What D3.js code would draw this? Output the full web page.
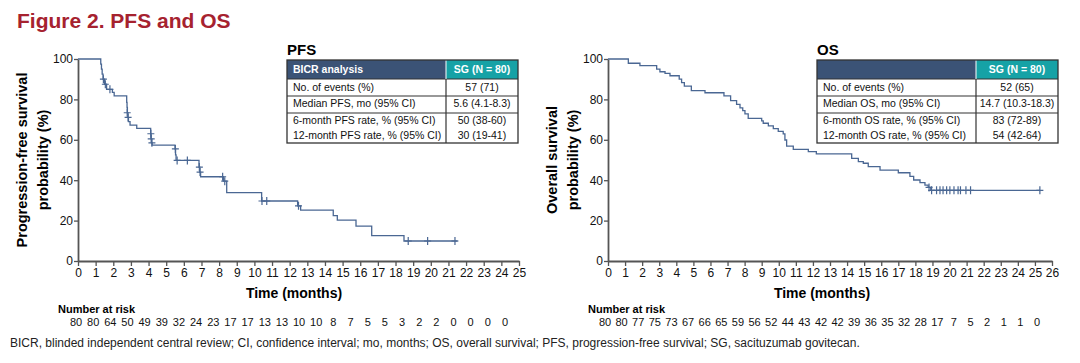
<!DOCTYPE html>
<html>
<head>
<meta charset="utf-8">
<script src="https://cdn.jsdelivr.net/npm/d3@7"></script>
<style>
body{margin:0;background:#fff;}
svg{font-family:"Liberation Sans",Arial,sans-serif;display:block;}
</style>
</head>
<body>
<div class="figure"></div>
<script>
//PFS Kaplan-Meier steps (months, % surviving after each step)
const pfsTime = [0, 1.29, 1.33, 1.37, 1.42, 1.5, 1.62, 1.95, 2.05, 2.76, 2.78, 2.8, 2.83, 2.86, 2.95, 3.33, 4.12, 4.14, 4.17, 4.2, 5.5, 5.53, 5.56, 6.86, 6.9, 6.95, 8.25, 8.43, 10.41, 12.45, 12.62, 14.47, 14.7, 15.76, 16.65, 18.48];
const pfsSurv = [100, 97.5, 95, 92.5, 90, 87.5, 85, 83.5, 81.7, 78.5, 76, 73.4, 71.1, 69, 67.3, 65.7, 63, 60.5, 58.5, 57.4, 55.5, 52.5, 49.8, 46.5, 44, 41.7, 39.5, 33.8, 29.7, 27.3, 25.2, 22.5, 20.2, 17.3, 12.6, 9.9];
const pfsEnd = 21.52;
const pfsCensorTime = [1.44, 1.55, 1.81, 2.79, 2.84, 4.13, 4.15, 4.19, 5.52, 5.62, 6.2, 6.88, 6.92, 8.2, 8.32, 10.43, 10.7, 12.5, 18.72, 19.82, 21.37];
const pfsCensorSurv = [90, 87.5, 85, 73.4, 71.1, 63, 60.5, 58.5, 55.5, 49.8, 49.8, 46.5, 44, 41.7, 39.5, 29.7, 29.7, 27.3, 9.9, 9.9, 9.9];
const pfsAtRisk = [80, 80, 64, 50, 49, 39, 32, 24, 23, 17, 17, 13, 13, 10, 10, 8, 7, 5, 5, 3, 2, 2, 0, 0, 0, 0];

//OS Kaplan-Meier steps
const osTime = [0, 1.19, 1.87, 2.85, 3.04, 3.34, 3.63, 4.17, 4.31, 4.47, 4.88, 5.68, 6.79, 7.18, 7.53, 7.73, 7.89, 8.02, 8.21, 9.0, 9.09, 9.39, 9.68, 9.97, 10.26, 10.36, 10.46, 10.85, 11.73, 12.2, 14.27, 14.66, 14.95, 15.24, 15.93, 17.0, 17.68, 17.9, 18.27, 18.56, 18.75, 18.9];
const osSurv = [100, 97.9, 96.7, 95.0, 93.7, 92.9, 91.7, 90.0, 88.3, 86.6, 84.3, 83.3, 81.7, 79.4, 77.5, 75.8, 74.4, 72.8, 70.6, 69.4, 68.2, 66.9, 65.5, 64.2, 62.9, 59.9, 56.9, 55.3, 54.1, 53.0, 50.8, 49.2, 48.4, 46.7, 45.0, 43.7, 41.9, 40.1, 38.8, 37.6, 36.4, 35.0];
const osEnd = 25.3;
const osCensorTime = [18.8, 18.95, 19.24, 19.44, 19.62, 19.83, 20.02, 20.26, 20.5, 20.64, 20.96, 21.23, 25.29];
const osCensorSurv = [36.4, 35, 35, 35, 35, 35, 35, 35, 35, 35, 35, 35, 35];
const osAtRisk = [80, 80, 77, 75, 73, 67, 66, 65, 59, 56, 52, 44, 43, 42, 42, 39, 36, 35, 32, 28, 17, 7, 5, 2, 1, 1, 0];

//Tables
const pfsRowLabels = ['No. of events (%)', 'Median PFS, mo (95% CI)', '6-month PFS rate, % (95% CI)', '12-month PFS rate, % (95% CI)'];
const pfsRowValues = ['57 (71)', '5.6 (4.1-8.3)', '50 (38-60)', '30 (19-41)'];
const osRowLabels = ['No. of events (%)', 'Median OS, mo (95% CI)', '6-month OS rate, % (95% CI)', '12-month OS rate, % (95% CI)'];
const osRowValues = ['52 (65)', '14.7 (10.3-18.3)', '83 (72-89)', '54 (42-64)'];

const yTicks = [0, 20, 40, 60, 80, 100];

const lineColor = '#4a6793';
const navy = '#3b5376';
const teal = '#16a2a6';

const width = 1080;
const height = 363;
const svg = d3.select('.figure')
	.append('svg')
	.attr('width', width)
	.attr('height', height);

//Title
svg.append('text')
	.attr('x', 17)
	.attr('y', 28)
	.attr('font-size', '21px')
	.attr('font-weight', 'bold')
	.attr('fill', '#a6222f')
	.text('Figure 2. PFS and OS');

function drawPanel(p){
	const x = d3.scaleLinear().domain([0, p.maxMonth]).range([p.left, p.right]);
	const y = d3.scaleLinear().domain([0, 100]).range([261, 59]);
	const xRisk = d3.scaleLinear().domain([0, p.maxMonth]).range(p.riskRange);

	//Axes
	const gx = svg.append('g')
		.attr('transform', 'translate(0,261)')
		.call(d3.axisBottom(x).tickValues(d3.range(0, p.maxMonth + 1)).tickSize(5).tickPadding(2).tickSizeOuter(0));
	const gy = svg.append('g')
		.attr('transform', `translate(${p.left},0)`)
		.call(d3.axisLeft(y).tickValues(yTicks).tickSize(4).tickPadding(1).tickSizeOuter(0));
	[gx, gy].forEach(g=>{
		g.selectAll('path, line').attr('stroke', '#555').attr('stroke-width', 1.3);
		g.selectAll('text').attr('font-size', '12px').attr('fill', '#111').attr('font-family', '"Liberation Sans",Arial,sans-serif');
	});
	gy.select('.domain').attr('stroke-width', 1.8);
	gx.select('.domain').attr('stroke-width', 1.8);

	//KM curve
	const pts = p.time.map((t, i)=>[t, p.surv[i]]);
	pts.push([p.end, p.surv[p.surv.length - 1]]);
	const line = d3.line()
		.x(d=>x(d[0]))
		.y(d=>y(d[1]))
		.curve(d3.curveStepAfter);
	svg.append('path')
		.datum(pts)
		.attr('d', line)
		.attr('fill', 'none')
		.attr('stroke', lineColor)
		.attr('stroke-width', 1.3);

	//Censor marks
	svg.selectAll(null)
		.data(p.censorTime)
		.enter()
		.append('path')
		.attr('d', (d, i)=>{
			const cx = x(d), cy = y(p.censorSurv[i]);
			return `M${cx - 3.5},${cy}H${cx + 3.5}M${cx},${cy - 4}V${cy + 4}`;
		})
		.attr('stroke', lineColor)
		.attr('stroke-width', 1.2);

	//Axis titles
	svg.append('text')
		.attr('x', p.timeX)
		.attr('y', 298)
		.attr('text-anchor', 'middle')
		.attr('font-size', '14px')
		.attr('font-weight', 'bold')
		.text('Time (months)');
	p.yLabel.forEach((s, i)=>{
		svg.append('text')
			.attr('transform', `translate(${p.yLabelX + i * 21},160) rotate(-90)`)
			.attr('text-anchor', 'middle')
			.attr('font-size', '14.5px')
			.attr('font-weight', 'bold')
			.text(s);
	});

	//Number at risk
	svg.append('text')
		.attr('x', p.riskLabelX)
		.attr('y', 313)
		.attr('font-size', '11px')
		.attr('font-weight', 'bold')
		.text('Number at risk');
	svg.selectAll(null)
		.data(p.atRisk)
		.enter()
		.append('text')
		.attr('x', (d, i)=>xRisk(i))
		.attr('y', 326)
		.attr('text-anchor', 'middle')
		.attr('font-size', '11px')
		.attr('fill', '#111')
		.text(d=>d);

	//Table
	const t = p.table;
	const rows = [60, 79, 96, 113, 143];
	const base = [73, 90.5, 107, 123.5, 139];
	svg.append('text')
		.attr('x', t.x0)
		.attr('y', 55)
		.attr('font-size', '15px')
		.attr('font-weight', 'bold')
		.text(t.title);
	svg.append('rect').attr('x', t.x0).attr('y', rows[0]).attr('width', t.split - t.x0).attr('height', rows[1] - rows[0]).attr('fill', navy);
	svg.append('rect').attr('x', t.split).attr('y', rows[0]).attr('width', t.x1 - t.split).attr('height', rows[1] - rows[0]).attr('fill', teal);
	svg.append('text').attr('x', t.x0 + 6).attr('y', base[0]).attr('font-size', '10.5px').attr('font-weight', 'bold').attr('fill', '#fff').text(t.head);
	svg.append('text').attr('x', (t.split + t.x1) / 2).attr('y', base[0]).attr('text-anchor', 'middle').attr('font-size', '10.5px').attr('font-weight', 'bold').attr('fill', '#fff').text('SG (N = 80)');
	[rows[1], rows[2], rows[3]].forEach(ry=>{
		svg.append('line').attr('x1', t.x0).attr('x2', t.x1).attr('y1', ry).attr('y2', ry).attr('stroke', '#333').attr('stroke-width', 1.2);
	});
	svg.append('line').attr('x1', t.split).attr('x2', t.split).attr('y1', rows[1]).attr('y2', rows[4]).attr('stroke', '#333').attr('stroke-width', 1.2);
	svg.append('line').attr('x1', t.split).attr('x2', t.split).attr('y1', rows[0]).attr('y2', rows[1]).attr('stroke', '#fff').attr('stroke-width', 1);
	svg.append('rect').attr('x', t.x0).attr('y', rows[0]).attr('width', t.x1 - t.x0).attr('height', rows[4] - rows[0]).attr('fill', 'none').attr('stroke', '#333').attr('stroke-width', 1.3);
	t.labels.forEach((s, i)=>{
		svg.append('text').attr('x', t.x0 + 6).attr('y', base[i + 1]).attr('font-size', '10.5px').attr('fill', '#111').text(s);
		svg.append('text').attr('x', (t.split + t.x1) / 2).attr('y', base[i + 1]).attr('text-anchor', 'middle').attr('font-size', '10.5px').attr('fill', '#111').text(t.values[i]);
	});
}

drawPanel({
	maxMonth: 25, left: 78, right: 519, riskRange: [76, 505],
	time: pfsTime, surv: pfsSurv, end: pfsEnd,
	censorTime: pfsCensorTime, censorSurv: pfsCensorSurv, atRisk: pfsAtRisk,
	timeX: 294, yLabel: ['Progression-free survival', 'probability (%)'], yLabelX: 27, riskLabelX: 58,
	table: {x0: 287, x1: 518, split: 446, title: 'PFS', head: 'BICR analysis', labels: pfsRowLabels, values: pfsRowValues}
});
drawPanel({
	maxMonth: 26, left: 608, right: 1052, riskRange: [605, 1037],
	time: osTime, surv: osSurv, end: osEnd,
	censorTime: osCensorTime, censorSurv: osCensorSurv, atRisk: osAtRisk,
	timeX: 822, yLabel: ['Overall survival', 'probability (%)'], yLabelX: 557, riskLabelX: 588,
	table: {x0: 817, x1: 1058, split: 976, title: 'OS', head: '', labels: osRowLabels, values: osRowValues}
});

//Footnote
svg.append('text')
	.attr('x', 10)
	.attr('y', 347)
	.attr('font-size', '12px')
	.attr('fill', '#222')
	.text('BICR, blinded independent central review; CI, confidence interval; mo, months; OS, overall survival; PFS, progression-free survival; SG, sacituzumab govitecan.');
</script>
</body>
</html>
